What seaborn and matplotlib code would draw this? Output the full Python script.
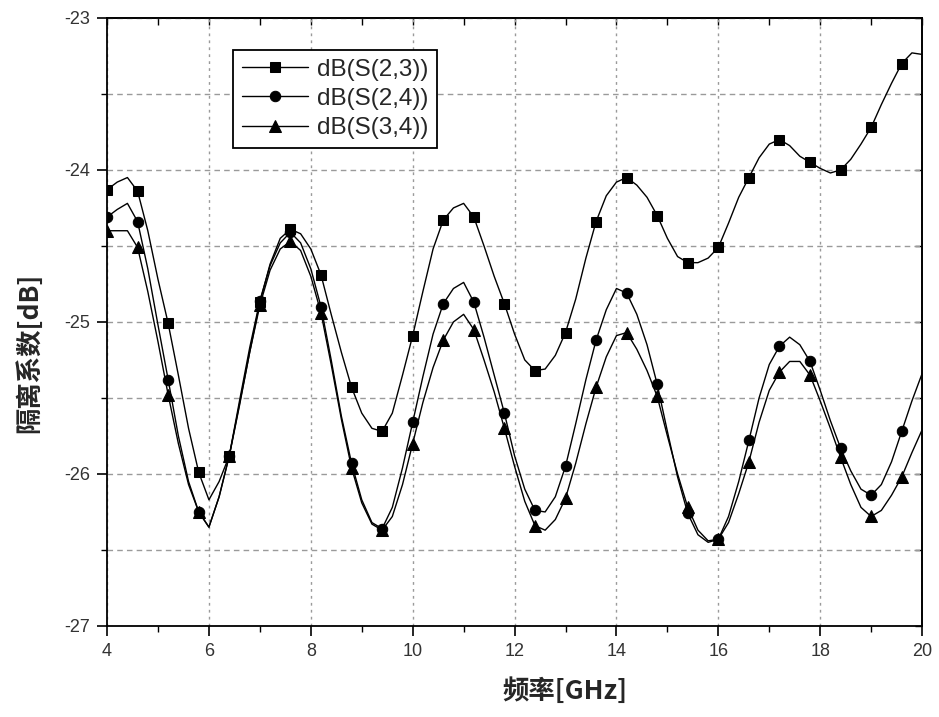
import numpy as np
import pandas as pd
import matplotlib
matplotlib.use("Agg")
import matplotlib.pyplot as plt
import seaborn as sns
from matplotlib.ticker import MultipleLocator

# ---- data ----
freq = [round(4.0 + 0.2 * i, 1) for i in range(81)]

s23 = [-24.13, -24.08, -24.05, -24.14, -24.40, -24.72, -25.01, -25.35, -25.70, -25.99,
       -26.17, -26.05, -25.88, -25.55, -25.20, -24.87, -24.62, -24.45, -24.39, -24.42,
       -24.52, -24.69, -24.95, -25.20, -25.43, -25.60, -25.70, -25.72, -25.60, -25.35,
       -25.09, -24.80, -24.52, -24.33, -24.25, -24.22, -24.31, -24.50, -24.70, -24.88,
       -25.08, -25.25, -25.32, -25.31, -25.22, -25.07, -24.85, -24.58, -24.34, -24.17,
       -24.08, -24.05, -24.10, -24.18, -24.30, -24.45, -24.57, -24.61, -24.61, -24.58,
       -24.51, -24.35, -24.18, -24.05, -23.92, -23.83, -23.80, -23.84, -23.91, -23.95,
       -23.99, -24.02, -24.00, -23.93, -23.83, -23.72, -23.57, -23.43, -23.30, -23.23,
       -23.24]

s24 = [-24.31, -24.26, -24.22, -24.34, -24.65, -25.02, -25.38, -25.75, -26.05, -26.25,
       -26.35, -26.15, -25.88, -25.52, -25.17, -24.86, -24.63, -24.48, -24.41, -24.48,
       -24.65, -24.90, -25.25, -25.62, -25.93, -26.17, -26.32, -26.36, -26.22, -25.96,
       -25.66, -25.36, -25.08, -24.88, -24.78, -24.74, -24.87, -25.10, -25.35, -25.60,
       -25.88, -26.10, -26.24, -26.25, -26.15, -25.95, -25.67, -25.38, -25.12, -24.92,
       -24.78, -24.81, -24.95, -25.15, -25.41, -25.72, -26.02, -26.26, -26.40, -26.45,
       -26.43, -26.28, -26.05, -25.78, -25.50, -25.28, -25.16, -25.10, -25.15, -25.26,
       -25.45, -25.65, -25.83, -25.98, -26.10, -26.14, -26.07, -25.92, -25.72, -25.52,
       -25.34]

s34 = [-24.40, -24.40, -24.40, -24.51, -24.80, -25.13, -25.48, -25.80, -26.07, -26.25,
       -26.35, -26.15, -25.88, -25.54, -25.20, -24.89, -24.66, -24.52, -24.47, -24.53,
       -24.70, -24.94, -25.28, -25.64, -25.96, -26.19, -26.33, -26.37, -26.28, -26.07,
       -25.80, -25.53, -25.30, -25.12, -25.00, -24.95, -25.05, -25.25, -25.46, -25.70,
       -25.95, -26.18, -26.34, -26.37, -26.30, -26.16, -25.93, -25.67, -25.43, -25.23,
       -25.09, -25.07, -25.18, -25.32, -25.49, -25.75, -26.00, -26.22, -26.37, -26.44,
       -26.43, -26.32, -26.13, -25.92, -25.66, -25.45, -25.33, -25.26, -25.26, -25.35,
       -25.52, -25.70, -25.89, -26.07, -26.22, -26.28, -26.24, -26.14, -26.02, -25.86,
       -25.71]

series_names = ["dB(S(2,3))", "dB(S(2,4))", "dB(S(3,4))"]
series_values = [s23, s24, s34]
series_markers = ["s", "o", "^"]

x_ticks = [4, 6, 8, 10, 12, 14, 16, 18, 20]
y_ticks = [-27, -26, -25, -24, -23]
x_label = "频率[GHz]"
y_label = "隔离系数[dB]"

# ---- style ----
sns.set_theme(style="white")
plt.rcParams["font.family"] = ["Liberation Sans", "Noto Sans CJK SC", "DejaVu Sans"]
plt.rcParams["axes.unicode_minus"] = False

fig = plt.figure(figsize=(9.39, 7.17), dpi=100)
ax = fig.add_axes([0.114, 0.127, 0.868, 0.848])

msizes = [7, 7.5, 8.5]
for name, vals, mk, ms in zip(series_names, series_values, series_markers, msizes):
    df = pd.DataFrame({"freq": freq, "val": vals})
    sns.lineplot(data=df, x="freq", y="val", ax=ax, color="black", linewidth=1.0,
                 marker=mk, markersize=ms, markevery=3, markeredgecolor="black",
                 markerfacecolor="black", label=name, sort=False, errorbar=None)

ax.set_xlim(4, 20)
ax.set_ylim(-27, -23)
ax.set_xticks(x_ticks)
ax.set_yticks(y_ticks)
ax.set_xticklabels([str(t) for t in x_ticks])
ax.set_yticklabels([str(t) for t in y_ticks])
ax.xaxis.set_minor_locator(MultipleLocator(1))
ax.yaxis.set_minor_locator(MultipleLocator(0.5))

# grid
ax.grid(False)
ax.xaxis.grid(True, which="major", color="#9a9a9a", linestyle=(0, (2, 3)), linewidth=1.0)
ax.yaxis.grid(True, which="both", color="#9a9a9a", linestyle=(0, (4, 3)), linewidth=1.0)

for sp in ax.spines.values():
    sp.set_color("black")
    sp.set_linewidth(1.3)

ax.tick_params(axis="both", which="major", direction="out", length=7, width=1.2,
               color="black", labelsize=13, labelcolor="#333333",
               bottom=True, left=True, pad=5)
ax.tick_params(axis="both", which="minor", direction="out", length=4, width=1.0,
               color="black", bottom=True, left=True)

# top and right ticks pointing inwards
secx = ax.secondary_xaxis("top")
secx.set_xticks(list(range(4, 21)))
secx.tick_params(direction="in", length=5, width=1.0, labeltop=False, color="black")
secx.spines["top"].set_linewidth(1.3)
secy = ax.secondary_yaxis("right")
secy.set_yticks([-27, -26.5, -26, -25.5, -25, -24.5, -24, -23.5, -23])
secy.tick_params(direction="in", length=5, width=1.0, labelright=False, color="black")
secy.spines["right"].set_linewidth(1.3)

ax.set_xlabel(x_label, fontsize=19, fontweight="bold",
              family=["Noto Sans CJK SC", "DejaVu Sans"])
ax.set_ylabel(y_label, fontsize=19, fontweight="bold",
              family=["Noto Sans CJK SC", "DejaVu Sans"])
ax.xaxis.set_label_coords(0.562, -0.085)
ax.yaxis.set_label_coords(-0.078, 0.45)

leg = ax.legend(loc="upper left", bbox_to_anchor=(0.155, 0.947), fontsize=17.5,
                frameon=True, fancybox=False, shadow=False, handlelength=2.7,
                borderpad=0.35, labelspacing=0.3, handletextpad=0.4, borderaxespad=0)
leg.get_frame().set_edgecolor("black")
leg.get_frame().set_linewidth(1.3)
leg.get_frame().set_alpha(1)

fig.savefig("out.png", dpi=100, facecolor="white")
